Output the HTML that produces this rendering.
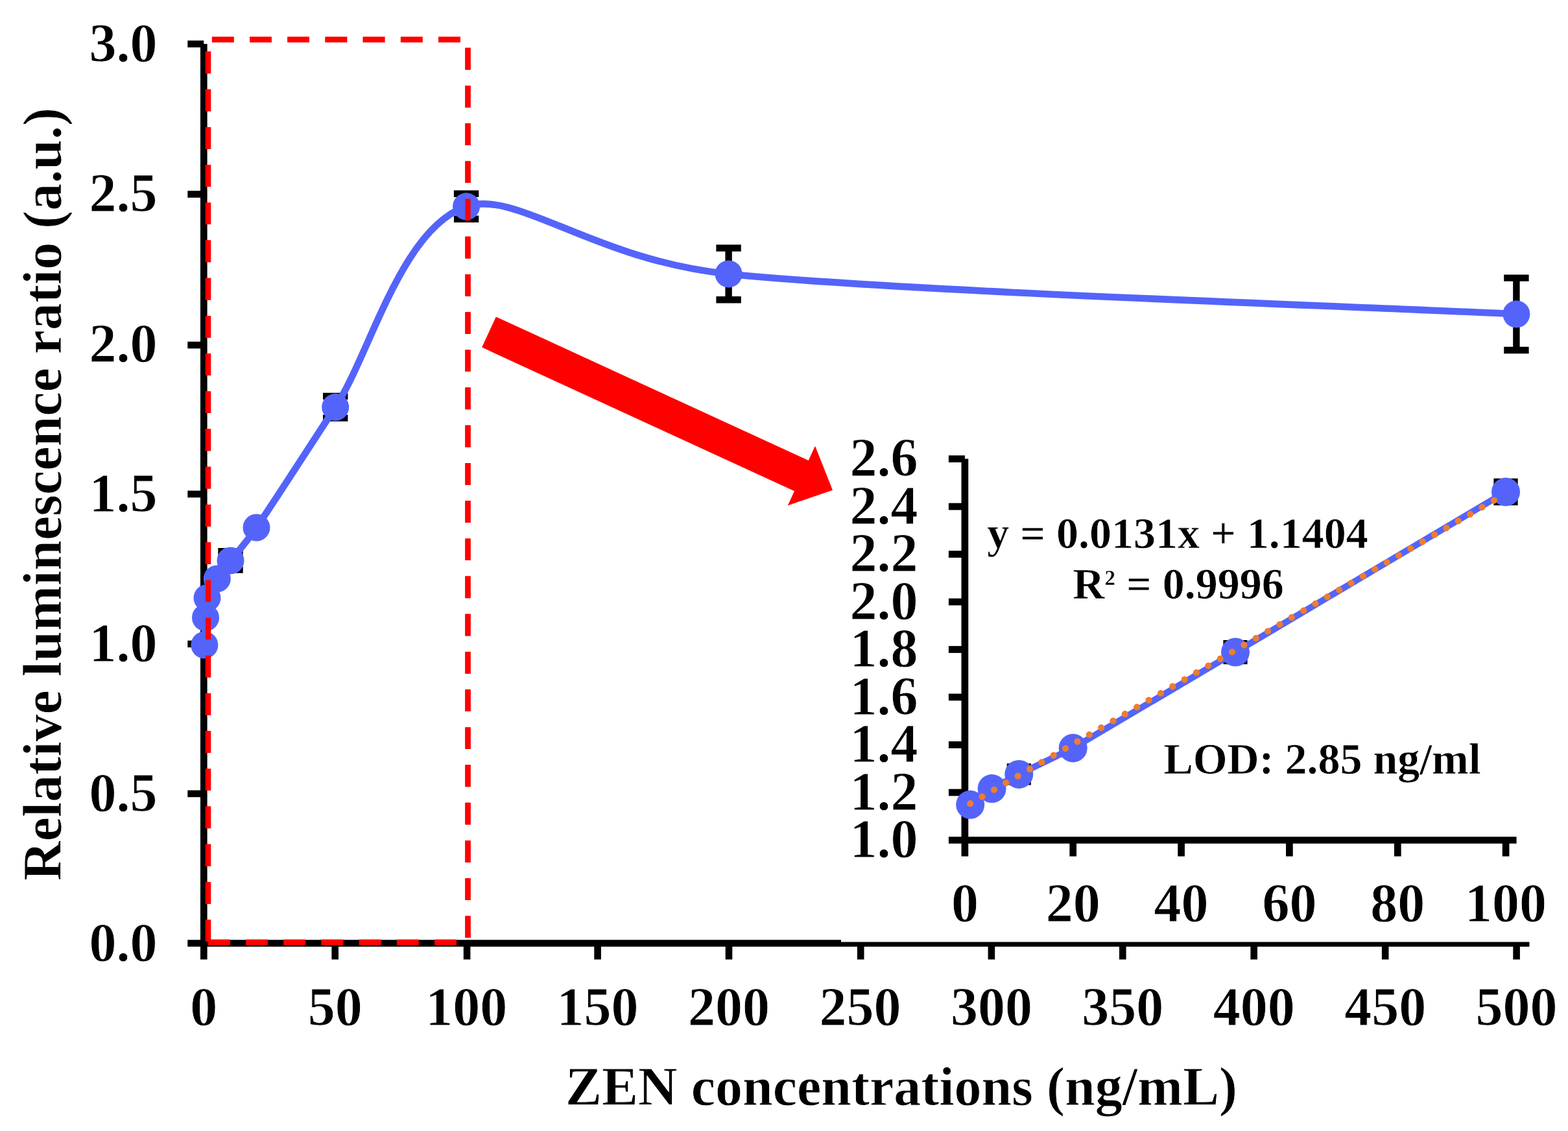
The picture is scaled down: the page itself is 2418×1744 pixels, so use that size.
<!DOCTYPE html>
<html lang="en"><head><meta charset="utf-8"><title>ZEN concentrations vs relative luminescence ratio</title>
<style>
html,body{margin:0;padding:0;background:#fff;}
body{width:2418px;height:1744px;overflow:hidden;}
svg{display:block;filter:blur(0.45px);}
text{font-family:'Liberation Serif', 'DejaVu Serif', serif;font-weight:bold;fill:#000;stroke:#fff;stroke-width:0.8px;stroke-linejoin:round;}
.t{font-size:84px;}
.s{font-size:68px;stroke-width:0.6px;}
</style></head><body>
<svg width="2418" height="1744" viewBox="0 0 2418 1744">
<rect x="0" y="0" width="2418" height="1744" fill="#fff"/>
<g stroke="#000" stroke-width="10.6" fill="none" stroke-linecap="butt">
<line x1="314.3" y1="67.8" x2="314.3" y2="1479.5"/>
<line x1="289.3" y1="1454.5" x2="2358.5" y2="1454.5"/>
<line x1="289.3" y1="1223.9" x2="314.3" y2="1223.9"/>
<line x1="289.3" y1="993.0" x2="314.3" y2="993.0"/>
<line x1="289.3" y1="761.9" x2="314.3" y2="761.9"/>
<line x1="289.3" y1="532.1" x2="314.3" y2="532.1"/>
<line x1="289.3" y1="299.5" x2="314.3" y2="299.5"/>
<line x1="289.3" y1="67.8" x2="314.3" y2="67.8"/>
<line x1="516.7" y1="1454.5" x2="516.7" y2="1479.5"/>
<line x1="720.1" y1="1454.5" x2="720.1" y2="1479.5"/>
<line x1="921.6" y1="1454.5" x2="921.6" y2="1479.5"/>
<line x1="1124.0" y1="1454.5" x2="1124.0" y2="1479.5"/>
<line x1="1327.2" y1="1454.5" x2="1327.2" y2="1479.5"/>
<line x1="1528.9" y1="1454.5" x2="1528.9" y2="1479.5"/>
<line x1="1731.3" y1="1454.5" x2="1731.3" y2="1479.5"/>
<line x1="1933.7" y1="1454.5" x2="1933.7" y2="1479.5"/>
<line x1="2136.2" y1="1454.5" x2="2136.2" y2="1479.5"/>
<line x1="2338.6" y1="1454.5" x2="2338.6" y2="1479.5"/>
</g>
<rect x="1297" y="640" width="1100" height="812.5" fill="#fff"/>
<g class="t" text-anchor="middle">
<text x="190" y="1482.0">0.0</text>
<text x="190" y="1250.9">0.5</text>
<text x="190" y="1019.8">1.0</text>
<text x="190" y="788.6">1.5</text>
<text x="190" y="557.5">2.0</text>
<text x="190" y="326.4">2.5</text>
<text x="190" y="95.3">3.0</text>
<text x="314.3" y="1580.5">0</text>
<text x="516.7" y="1580.5">50</text>
<text x="719.2" y="1580.5">100</text>
<text x="921.6" y="1580.5">150</text>
<text x="1124.0" y="1580.5">200</text>
<text x="1326.5" y="1580.5">250</text>
<text x="1528.9" y="1580.5">300</text>
<text x="1731.3" y="1580.5">350</text>
<text x="1933.7" y="1580.5">400</text>
<text x="2136.2" y="1580.5">450</text>
<text x="2338.6" y="1580.5">500</text>
</g>
<text class="t" text-anchor="middle" x="1390" y="1704">ZEN concentrations (ng/mL)</text>
<text class="t" text-anchor="middle" transform="translate(94,762) rotate(-90)">Relative luminescence ratio (a.u.)</text>
<path d="M321,1453 H721.5 V61 H321 V1453" fill="none" stroke="#ff0000" stroke-width="8.3" stroke-dasharray="33.7 24.5" stroke-linejoin="miter"/>
<g stroke="#000" stroke-width="10.4" fill="none">
<path d="M355.5,850.2 V878.6 M336.3,850.2 H374.7 M336.3,878.6 H374.7"/>
<path d="M517.2,611.0 V644.6 M498.0,611.0 H536.4 M498.0,644.6 H536.4"/>
<path d="M719.1,298.8 V337.8 M699.9,298.8 H738.3 M699.9,337.8 H738.3"/>
<path d="M1123.6,382.5 V462.3 M1104.4,382.5 H1142.8 M1104.4,462.3 H1142.8"/>
<path d="M2338.4,428.6 V540.0 M2319.2,428.6 H2357.6 M2319.2,540.0 H2357.6"/>
</g>
<path d="M315.40,994.60 C315.67,987.57 316.32,964.50 317.00,952.40 C317.68,940.30 316.53,932.00 319.50,922.00 C322.47,912.00 328.80,902.00 334.80,892.40 C340.80,882.80 345.38,877.55 355.50,864.40 C362.36,855.49 377.24,840.22 395.50,813.50 C422.45,774.07 463.27,710.33 517.20,627.80 C571.13,545.27 618.03,352.53 719.10,318.30 C796.90,291.95 915.85,401.10 1123.60,422.40 C1393.48,450.07 2135.93,473.98 2338.40,484.30" fill="none" stroke="#5464fa" stroke-width="10.6" stroke-linecap="round" stroke-linejoin="round"/>
<g fill="#5464fa">
<circle cx="315.4" cy="994.6" r="21"/>
<circle cx="317.0" cy="952.4" r="21"/>
<circle cx="319.5" cy="922.0" r="21"/>
<circle cx="334.8" cy="892.4" r="21"/>
<circle cx="355.5" cy="864.4" r="21"/>
<circle cx="395.5" cy="813.5" r="21"/>
<circle cx="517.2" cy="627.8" r="21"/>
<circle cx="719.1" cy="318.3" r="21"/>
<circle cx="1123.6" cy="422.4" r="21"/>
<circle cx="2338.4" cy="484.3" r="21"/>
</g>
<path d="M321,1453 H721.5 V61 H321 V1453" fill="none" stroke="#ff0000" stroke-width="8.3" stroke-dasharray="33.7 24.5" stroke-linejoin="miter"/>
<polygon transform="translate(754.0,512.0) rotate(24.702)" fill="#ff0000" points="0,-26.0 530.4,-26.0 530.4,-50.5 583.4,0 530.4,50.5 530.4,26.0 0,26.0"/>
<g stroke="#000" stroke-width="10.7" fill="none">
<line x1="1487.9" y1="707.6" x2="1487.9" y2="1320.5"/>
<line x1="1462.9" y1="1295.5" x2="2338.6" y2="1295.5"/>
<line x1="1462.9" y1="1222.0" x2="1487.9" y2="1222.0"/>
<line x1="1462.9" y1="1148.5" x2="1487.9" y2="1148.5"/>
<line x1="1462.9" y1="1075.0" x2="1487.9" y2="1075.0"/>
<line x1="1462.9" y1="1001.5" x2="1487.9" y2="1001.5"/>
<line x1="1462.9" y1="928.1" x2="1487.9" y2="928.1"/>
<line x1="1462.9" y1="854.6" x2="1487.9" y2="854.6"/>
<line x1="1462.9" y1="781.1" x2="1487.9" y2="781.1"/>
<line x1="1462.9" y1="707.6" x2="1487.9" y2="707.6"/>
<line x1="1654.7" y1="1295.5" x2="1654.7" y2="1320.5"/>
<line x1="1821.6" y1="1295.5" x2="1821.6" y2="1320.5"/>
<line x1="1988.4" y1="1295.5" x2="1988.4" y2="1320.5"/>
<line x1="2155.3" y1="1295.5" x2="2155.3" y2="1320.5"/>
<line x1="2322.1" y1="1295.5" x2="2322.1" y2="1320.5"/>
</g>
<g class="t" text-anchor="middle">
<text x="1363" y="1322.0">1.0</text>
<text x="1363" y="1248.5">1.2</text>
<text x="1363" y="1175.0">1.4</text>
<text x="1363" y="1101.5">1.6</text>
<text x="1363" y="1028.0">1.8</text>
<text x="1363" y="954.6">2.0</text>
<text x="1363" y="881.1">2.2</text>
<text x="1363" y="807.6">2.4</text>
<text x="1363" y="734.1">2.6</text>
<text x="1487.9" y="1421">0</text>
<text x="1654.7" y="1421">20</text>
<text x="1821.6" y="1421">40</text>
<text x="1988.4" y="1421">60</text>
<text x="2155.3" y="1421">80</text>
<text x="2322.1" y="1421">100</text>
</g>
<g stroke="#000" stroke-width="10.6" fill="none">
<path d="M1571.3,1182.6 V1205.2 M1552.7,1182.6 H1589.9 M1552.7,1205.2 H1589.9"/>
<path d="M1905.0,992.3 V1018.9 M1886.4,992.3 H1923.6 M1886.4,1018.9 H1923.6"/>
<path d="M2322.0,743.0 V774.0 M2303.4,743.0 H2340.6 M2303.4,774.0 H2340.6"/>
</g>
<polyline points="1496.2,1240.8 1529.6,1216.1 1571.3,1193.9 1654.7,1153.5 1905.0,1005.6 2322.0,758.5" fill="none" stroke="#5464fa" stroke-width="10" stroke-linejoin="round"/>
<g fill="#5464fa">
<circle cx="1496.2" cy="1240.8" r="22"/>
<circle cx="1529.6" cy="1216.1" r="22"/>
<circle cx="1571.3" cy="1193.9" r="22"/>
<circle cx="1654.7" cy="1153.5" r="22"/>
<circle cx="1905.0" cy="1005.6" r="22"/>
<circle cx="2322.0" cy="758.5" r="22"/>
</g>
<line x1="1496.2" y1="1239.1" x2="2322.1" y2="761.0" stroke="#ed7d31" stroke-width="10.2" stroke-linecap="round" stroke-dasharray="0.01 21.2"/>
<text class="s" text-anchor="middle" x="1816" y="845">y = 0.0131x + 1.1404</text>
<text class="s" text-anchor="middle" x="1817" y="923">R<tspan font-size="56" dy="-6.5">²</tspan><tspan dy="6.5"> = 0.9996</tspan></text>
<text class="s" text-anchor="middle" x="2039" y="1192.5">LOD: 2.85 ng/ml</text>
</svg>
</body></html>
